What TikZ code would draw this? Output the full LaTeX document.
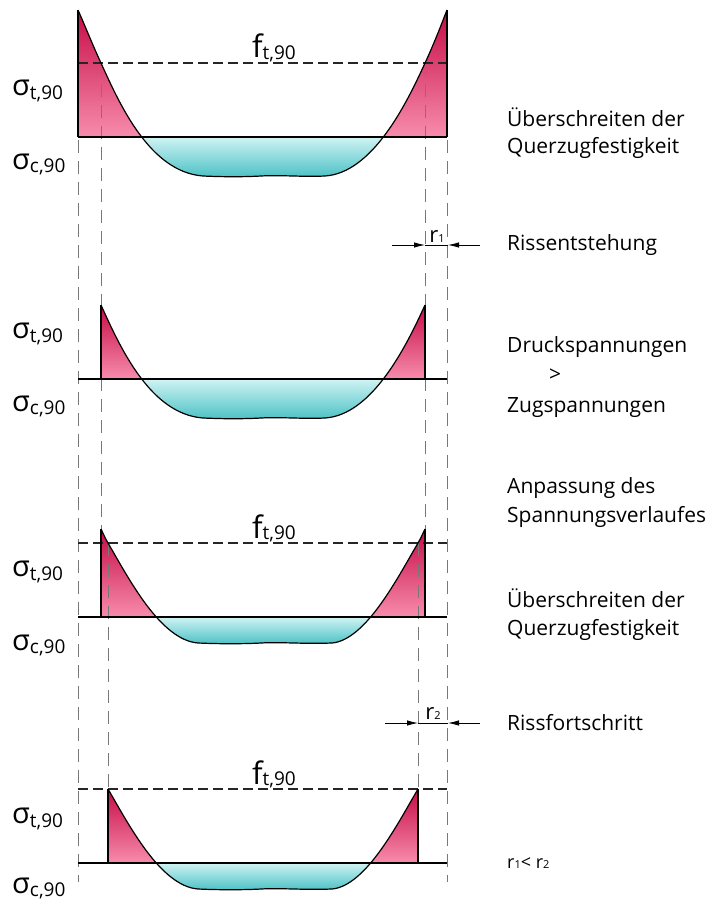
\documentclass[tikz,border=0pt]{standalone}
\usepackage{fontspec}
\setmainfont{Open Sans}
\usetikzlibrary{arrows.meta}
\definecolor{redtop}{RGB}{198,12,70}
\definecolor{redbot}{RGB}{247,140,172}
\definecolor{cyantop}{RGB}{208,243,243}
\definecolor{cyanbot}{RGB}{76,194,198}
\definecolor{guide}{RGB}{120,120,120}
\newcommand\crvAleft{.. controls (86,-109) and (93,-91) .. (101,-74)}
\newcommand\crvAmid{.. controls (120,-32) and (150,35) .. (203,39) .. controls (225,40) and (245,40) .. (265,38.8) .. controls (285,38.2) and (305,40) .. (325,39) .. controls (372,36) and (406,-32) .. (425,-74)}
\newcommand\crvAright{.. controls (433,-91) and (440,-109) .. (447,-127)}
\newcommand\crvBleft{.. controls (103,-84) and (105,-79) .. (108,-74)}
\newcommand\crvBmid{.. controls (128,-40) and (160,23) .. (198,26) .. controls (220,27) and (245,27) .. (265,25.8) .. controls (285,25.2) and (305,27) .. (332,26) .. controls (366,23) and (398,-40) .. (418,-74)}
\newcommand\crvBright{.. controls (421,-79) and (423,-84) .. (425,-88)}
\newcommand\sigT{{\fontsize{29}{29}\selectfont σ}{\fontsize{19}{19}\selectfont\raisebox{-4pt}{t,90}}}
\newcommand\sigC{{\fontsize{29}{29}\selectfont σ}{\fontsize{19}{19}\selectfont\raisebox{-3pt}{c,90}}}
\newcommand\fT{{\fontsize{31}{31}\selectfont f}{\fontsize{19}{19}\selectfont\raisebox{-1.5pt}{t,90}}}
\tikzset{
  guideline/.style={draw=guide, line width=1pt, dash pattern=on 13pt off 8pt},
  fline/.style={draw=black!85, line width=1.1pt, dash pattern=on 10pt off 5pt},
  curveline/.style={draw=black, line width=1.2pt},
  edgeline/.style={draw=black, line width=1.5pt},
  axisline/.style={draw=black, line width=1.8pt},
  dimline/.style={draw=black, line width=0.8pt},
  dimarrow/.style={draw=black, line width=0.8pt, -{Latex[length=11pt,width=5.5pt]}},
  siglbl/.style={inner sep=0pt, anchor=base west},
  txt/.style={inner sep=0pt, anchor=base west, font=\fontsize{21}{25}\selectfont},
  rlbl/.style={inner sep=0pt, anchor=base, font=\fontsize{22}{22}\selectfont},
}
\begin{document}
\begin{tikzpicture}[x=1pt,y=-1pt]
\useasboundingbox (0,0) rectangle (716,904);
% ---------- fills ----------
\begin{scope}[shift={(0,137)}]
  \begin{scope}
    \clip (78,0) -- (78,-127) \crvAleft \crvAmid \crvAright -- (447,0) -- cycle;
    \shade[top color=redtop,bottom color=redbot] (70,-127) rectangle (455,0);
    \shade[top color=cyantop,bottom color=cyanbot] (70,0) rectangle (455,40);
  \end{scope}
\end{scope}
\begin{scope}[shift={(0,379)}]
  \begin{scope}
    \clip (101,0) -- (101,-74) \crvAmid -- (425,0) -- cycle;
    \shade[top color=redtop,bottom color=redbot] (70,-74) rectangle (455,0);
    \shade[top color=cyantop,bottom color=cyanbot] (70,0) rectangle (455,40);
  \end{scope}
\end{scope}
\begin{scope}[shift={(0,617)}]
  \begin{scope}
    \clip (101,0) -- (101,-88) \crvBleft \crvBmid \crvBright -- (425,0) -- cycle;
    \shade[top color=redtop,bottom color=redbot] (70,-88) rectangle (455,0);
    \shade[top color=cyantop,bottom color=cyanbot] (70,0) rectangle (455,27);
  \end{scope}
\end{scope}
\begin{scope}[shift={(0,863)}]
  \begin{scope}
    \clip (108,0) -- (108,-74) \crvBmid -- (418,0) -- cycle;
    \shade[top color=redtop,bottom color=redbot] (70,-74) rectangle (455,0);
    \shade[top color=cyantop,bottom color=cyanbot] (70,0) rectangle (455,27);
  \end{scope}
\end{scope}
% ---------- guide lines ----------
\coordinate (gL1) at (78,140);  \coordinate (gL2) at (78,882);
\coordinate (gR1) at (447,140); \coordinate (gR2) at (447,882);
\coordinate (ga1) at (101,63);  \coordinate (ga2) at (101,529);
\coordinate (gb1) at (425,63);  \coordinate (gb2) at (425,529);
\coordinate (gc1) at (108,543); \coordinate (gc2) at (108,789);
\coordinate (gd1) at (418,543); \coordinate (gd2) at (418,789);
\draw[guideline] (gL1) -- (gL2);
\draw[guideline] (gR1) -- (gR2);
\draw[guideline] (ga1) -- (ga2);
\draw[guideline] (gb1) -- (gb2);
\draw[guideline] (gc1) -- (gc2);
\draw[guideline] (gd1) -- (gd2);
% ---------- f lines ----------
\coordinate (f1a) at (78,63);  \coordinate (f1b) at (447,63);
\coordinate (f3a) at (78,543); \coordinate (f3b) at (447,543);
\coordinate (f4a) at (78,789); \coordinate (f4b) at (447,789);
\draw[fline] (f1a) -- (f1b);
\draw[fline] (f3a) -- (f3b);
\draw[fline] (f4a) -- (f4b);
% ---------- outlines ----------
\begin{scope}[shift={(0,137)}]
  \draw[curveline] (78,-127) \crvAleft \crvAmid \crvAright;
  \draw[edgeline] (78,0) -- (78,-127) (447,0) -- (447,-127);
  \draw[axisline] (78,0) -- (447,0);
\end{scope}
\begin{scope}[shift={(0,379)}]
  \draw[curveline] (101,-74) \crvAmid;
  \draw[edgeline] (101,0) -- (101,-74) (425,0) -- (425,-74);
  \draw[axisline] (78,0) -- (447,0);
\end{scope}
\begin{scope}[shift={(0,617)}]
  \draw[curveline] (101,-88) \crvBleft \crvBmid \crvBright;
  \draw[edgeline] (101,0) -- (101,-88) (425,0) -- (425,-88);
  \draw[axisline] (78,0) -- (447,0);
\end{scope}
\begin{scope}[shift={(0,863)}]
  \draw[curveline] (108,-74) \crvBmid;
  \draw[edgeline] (108,0) -- (108,-74) (418,0) -- (418,-74);
  \draw[axisline] (78,0) -- (447,0);
\end{scope}
% ---------- dimension arrows ----------
\coordinate (r1s) at (392,245); \coordinate (r1a) at (425,245);
\coordinate (r1b) at (448,245); \coordinate (r1e) at (480,245);
\draw[dimarrow] (r1s) -- (r1a);
\draw[dimarrow] (r1e) -- (r1b);
\draw[dimline] (r1a) -- (r1b);
\node[rlbl] (r1lbl) at (437,242) {r{\fontsize{11}{11}\selectfont 1}};
\coordinate (r2s) at (385,723); \coordinate (r2a) at (418,723);
\coordinate (r2b) at (448,723); \coordinate (r2e) at (480,723);
\draw[dimarrow] (r2s) -- (r2a);
\draw[dimarrow] (r2e) -- (r2b);
\draw[dimline] (r2a) -- (r2b);
\node[rlbl] (r2lbl) at (433,719) {r{\fontsize{11}{11}\selectfont 2}};
% ---------- sigma labels ----------
\node[siglbl] (st1) at (12,96) {\sigT};
\node[siglbl] (sc1) at (12,170) {\sigC};
\node[siglbl] (st2) at (12,338) {\sigT};
\node[siglbl] (sc2) at (12,411) {\sigC};
\node[siglbl] (st3) at (12,576) {\sigT};
\node[siglbl] (sc3) at (12,650) {\sigC};
\node[siglbl] (st4) at (12,823) {\sigT};
\node[siglbl] (sc4) at (12,893) {\sigC};
% ---------- f labels ----------
\node[siglbl] (ft1) at (252,58) {\fT};
\node[siglbl] (ft3) at (252,538) {\fT};
\node[siglbl] (ft4) at (252,784) {\fT};
% ---------- right texts ----------
\node[txt] (t1) at (507,127) {Überschreiten der};
\node[txt] (t2) at (507,154) {Querzugfestigkeit};
\node[txt] (t3) at (507,250) {Rissentstehung};
\node[txt] (t4) at (507,352) {Druckspannungen};
\node[txt, anchor=base] (t5) at (555,381) {>};
\node[txt] (t6) at (507,412) {Zugspannungen};
\node[txt] (t7) at (507,493) {Anpassung des};
\node[txt] (t8) at (507,522) {Spannungsverlaufes};
\node[txt] (t9) at (507,607) {Überschreiten der};
\node[txt] (t10) at (507,635) {Querzugfestigkeit};
\node[txt] (t11) at (507,730) {Rissfortschritt};
\node[inner sep=0pt, anchor=base west, font=\fontsize{18}{18}\selectfont] (t12) at (507,868) {r{\fontsize{11}{11}\selectfont 1}< r{\fontsize{11}{11}\selectfont 2}};
\end{tikzpicture}
\end{document}
